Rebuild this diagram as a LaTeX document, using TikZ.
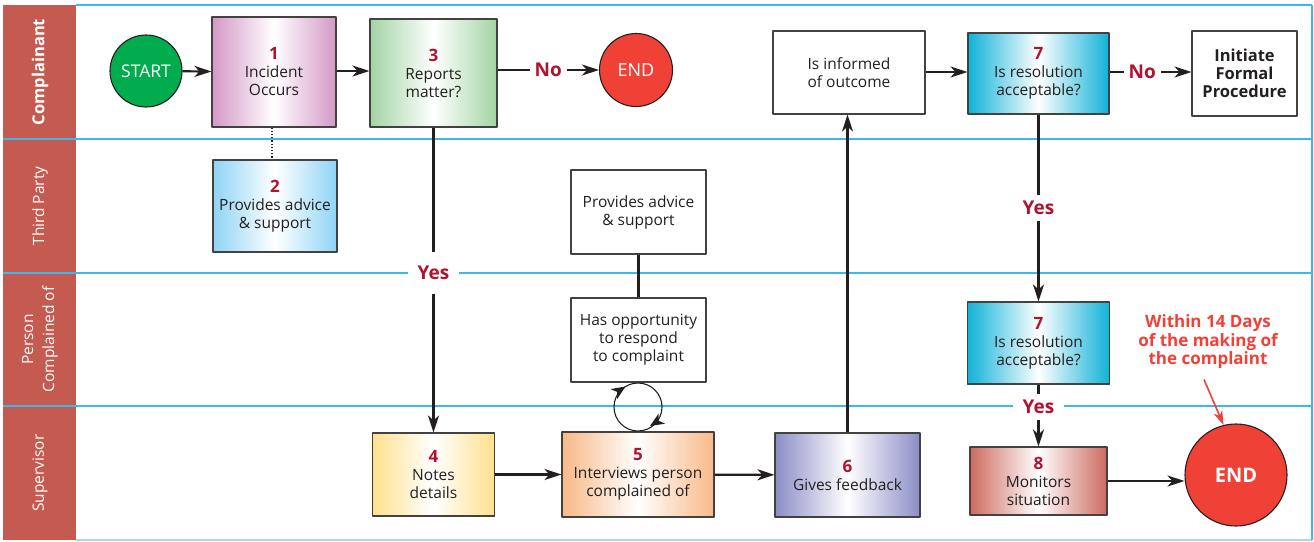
\documentclass[tikz,border=0pt]{standalone}
\usepackage{fontspec}
\setmainfont{Open Sans}
\usetikzlibrary{arrows.meta}
\definecolor{lanered}{HTML}{C55A50}
\definecolor{laneblue}{HTML}{3DB8EA}
\definecolor{laneline}{HTML}{9FDCF4}
\definecolor{numred}{HTML}{B3122E}
\definecolor{ink}{HTML}{231F20}
\definecolor{startgreen}{HTML}{00AC4E}
\definecolor{endred}{HTML}{EF4136}
\definecolor{cpink}{HTML}{D498C5}
\definecolor{cblue}{HTML}{8ED4F5}
\definecolor{cgreen}{HTML}{A2D4A4}
\definecolor{cyellow}{HTML}{FFE08C}
\definecolor{corange}{HTML}{F8B987}
\definecolor{cviolet}{HTML}{8B8DC6}
\definecolor{ccyan}{HTML}{10B2D8}
\definecolor{cbrown}{HTML}{CD6B60}
\newcommand{\stepno}[1]{{\fontsize{17}{18}\bfseries\color{numred}#1}\\}
\tikzset{
  box/.style={draw=ink!85, line width=1.1pt, text=ink, align=center, inner sep=2pt,
    font=\fontsize{15.5}{18}\selectfont},
  shadebox/.style={box, left color=#1, right color=#1, middle color=white},
  terminal/.style={circle, draw=ink, line width=1.1pt, fill=#1, text=white, inner sep=0pt},
  answer/.style={fill=white, text=numred, inner xsep=5pt, inner ysep=6pt,
    font=\fontsize{19}{21}\bfseries\selectfont},
  laneyes/.style={answer, minimum width=51pt},
  lanetext/.style={text=white, rotate=90, align=center, font=\fontsize{15.5}{21}\selectfont},
  conn/.style={draw=ink, line width=2.2pt, -{Stealth[length=17pt,width=11pt,inset=5pt]}},
  plainconn/.style={draw=ink, line width=2.2pt},
  loopline/.style={draw=ink, line width=1.1pt},
}
\begin{document}
\begin{tikzpicture}[x=1pt, y=-1pt, line join=round]
  \useasboundingbox (0,0) rectangle (1314,541);
  % swim lanes
  \fill[lanered] (3,5) rectangle (76,540);
  \draw[laneblue, line width=2pt] (76,5) -- (1312,5);
  \foreach \y in {139,273,406}
    \draw[laneblue, line width=2pt] (3,\y) -- (1312,\y);
  \draw[laneline, line width=2pt] (76,540) -- (1312,540);
  \draw[laneblue, line width=2pt] (1312,5) -- (1312,540);
  \node[lanetext, font=\fontsize{16.5}{21}\bfseries\selectfont] at (40,72) {Complainant};
  \node[lanetext] at (40,206) {Third Party};
  \node[lanetext] at (40,339.5) {Person\\Complained of};
  \node[lanetext] at (40,473) {Supervisor};

  % steps
  \node[terminal=startgreen, minimum size=72pt, font=\fontsize{17.5}{20}\selectfont] (start) at (146,71) {START};
  \node[shadebox=cpink, minimum width=124pt, minimum height=110pt] (b1) at (274,72) {\stepno{1}Incident\\Occurs};
  \node[shadebox=cblue, minimum width=124pt, minimum height=92pt] (b2) at (275,206) {\stepno{2}Provides advice\\\& support};
  \node[shadebox=cgreen, minimum width=127pt, minimum height=108pt] (b3) at (433.5,73) {\stepno{3}Reports\\matter?};
  \node[terminal=endred, minimum size=73pt, font=\fontsize{18}{20}\selectfont] (end1) at (636,70) {END};
  \node[box, minimum width=135pt, minimum height=84pt] (adv) at (638.5,212) {Provides advice\\\& support};
  \node[box, minimum width=135pt, minimum height=84pt] (resp) at (638.5,340) {Has opportunity\\to respond\\to complaint};
  \node[box, minimum width=152pt, minimum height=83pt] (inf) at (849,72.5) {Is informed\\of outcome};
  \node[shadebox=ccyan, minimum width=141pt, minimum height=81pt] (b7a) at (1038.5,73.5) {\stepno{7}Is resolution\\acceptable?};
  \node[box, minimum width=105pt, minimum height=85pt, font=\fontsize{16.5}{18}\bfseries\selectfont] (formal) at (1244.5,73.5) {Initiate\\Formal\\Procedure};
  \node[shadebox=ccyan, minimum width=142pt, minimum height=82pt] (b7b) at (1038.5,343) {\stepno{7}Is resolution\\acceptable?};
  \node[shadebox=cyellow, minimum width=122pt, minimum height=83pt] (b4) at (433.5,474.5) {\stepno{4}Notes\\details};
  \node[shadebox=corange, minimum width=152pt, minimum height=85pt] (b5) at (638,474.5) {\stepno{5}Interviews person\\complained of};
  \node[shadebox=cviolet, minimum width=145pt, minimum height=84pt] (b6) at (847.5,475) {\stepno{6}Gives feedback};
  \node[shadebox=cbrown, minimum width=137pt, minimum height=68pt] (b8) at (1038.5,481) {\stepno{8}Monitors\\situation};
  \node[terminal=endred, minimum size=102pt, font=\fontsize{20}{22}\bfseries\selectfont] (end2) at (1236,475) {END};
  \node[text=endred, align=center, font=\fontsize{17}{18.5}\bfseries\selectfont] (note) at (1208,342) {Within 14 Days\\of the making of\\the complaint};

  % answers on the connectors
  \node[laneyes, minimum height=41pt] (yes1) at (433.5,273) {Yes};
  \node[laneyes] (yes2) at (1038.5,208) {Yes};
  \node[laneyes] (yes3) at (1038.5,407) {Yes};

  % connectors
  \draw[conn] (start) -- (b1);
  \draw[conn] (b1.east |- start) -- (b3.west |- start);
  \draw[ink, line width=1.2pt, dotted] (b1.south -| 272,0) -- (b2.north -| 272,0);
  \draw[conn] (b3.east |- end1) -- node[answer]{No} (end1);
  \draw[conn] (b3) -- (yes1) -- (b4);
  \draw[conn] (b4) -- (b5);
  \draw[conn] (b5) -- (b6);
  \draw[conn] (b6.north) -- (b6.north |- inf.south);
  \draw[conn] (inf.east |- 0,72) -- (b7a.west |- 0,72);
  \draw[conn] (b7a.east |- 0,72) -- node[answer, pos=0.4]{No} (formal.west |- 0,72);
  \draw[conn] (b7a) -- (yes2) -- (b7b);
  \draw[conn] (b7b) -- (yes3) -- (b8);
  \draw[conn] (b8) -- (b8 -| end2.west);
  \draw[plainconn] (adv) -- (resp);
  \draw[endred, line width=1.6pt, -{Stealth[length=14pt,width=9pt,inset=4pt]}] ([xshift=-4pt,yshift=-7pt]note.south) -- (end2.104);

  % back and forth between step 5 and the response
  \coordinate (loop) at (638,407);
  \draw[loopline] (loop) circle[radius=24];
  \fill[ink] (625.5,386.5) -- (617.1,399.1) -- (617.2,391.9) -- (610.5,389.1) -- cycle;
  \fill[ink] (650,426) -- (665.1,423.7) -- (658.5,420.7) -- (658.7,413.5) -- cycle;
\end{tikzpicture}
\end{document}
